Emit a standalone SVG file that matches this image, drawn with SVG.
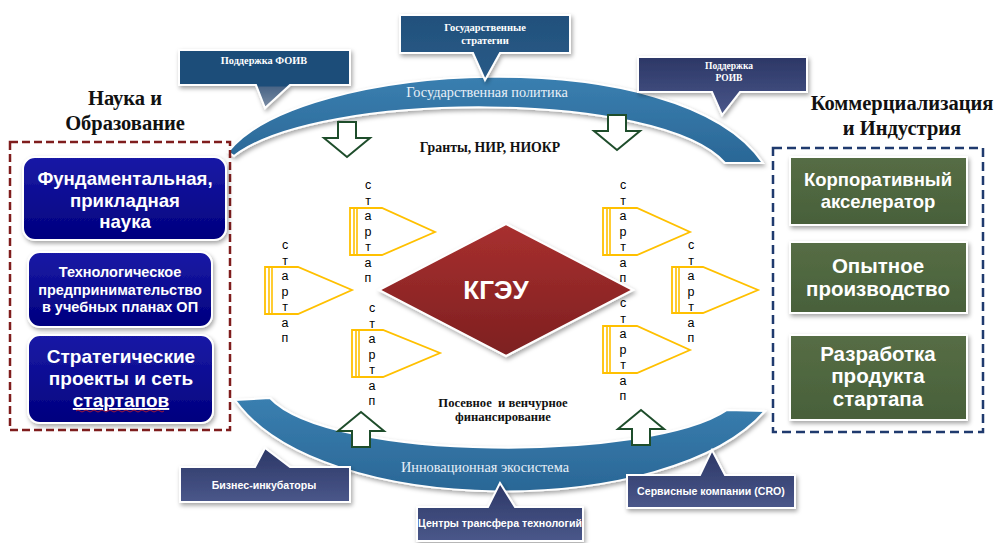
<svg xmlns="http://www.w3.org/2000/svg" width="996" height="543" viewBox="0 0 996 543">
<defs>
  <filter id="sh" x="-20%" y="-20%" width="140%" height="150%">
    <feDropShadow dx="1.5" dy="2.5" stdDeviation="2.2" flood-color="#000" flood-opacity="0.35"/>
  </filter>
  <linearGradient id="arcG" x1="0" y1="0" x2="0" y2="1">
    <stop offset="0" stop-color="#3a7fb0"/>
    <stop offset="1" stop-color="#2a6796"/>
  </linearGradient>
  <linearGradient id="blueBox" x1="0" y1="0" x2="0" y2="1">
    <stop offset="0" stop-color="#1a1aa6"/>
    <stop offset="1" stop-color="#00007e"/>
  </linearGradient>
  <linearGradient id="greenBox" x1="0" y1="0" x2="0" y2="1">
    <stop offset="0" stop-color="#566d45"/>
    <stop offset="1" stop-color="#48603a"/>
  </linearGradient>
  <linearGradient id="redD" x1="0" y1="0" x2="0" y2="1">
    <stop offset="0" stop-color="#a8302f"/>
    <stop offset="1" stop-color="#7d1f20"/>
  </linearGradient>
  <linearGradient id="foiv" x1="0" y1="0" x2="0" y2="1">
    <stop offset="0" stop-color="#1f4e79"/>
    <stop offset="0.62" stop-color="#1f4e79"/>
    <stop offset="0.64" stop-color="#4a6586"/>
    <stop offset="1" stop-color="#7d8ea6"/>
  </linearGradient>
  <linearGradient id="strat" x1="0" y1="0" x2="0" y2="1">
    <stop offset="0" stop-color="#21507c"/>
    <stop offset="1" stop-color="#2a5b87"/>
  </linearGradient>
  <linearGradient id="slate" x1="0" y1="0" x2="0" y2="1">
    <stop offset="0" stop-color="#2c3766"/>
    <stop offset="1" stop-color="#4a578a"/>
  </linearGradient>
  <style>
    .arc{fill:url(#arcG);stroke:#fff;stroke-width:2;filter:url(#sh)}
    .arcT{font-family:"Liberation Serif",serif;font-size:14.3px;fill:#e8f0f8;text-anchor:middle}
    .call{stroke:#fff;stroke-width:2;filter:url(#sh)}
    .ctS{font-family:"Liberation Serif",serif;font-weight:bold;fill:#fff;text-anchor:middle}
    .ctA{font-family:"Liberation Sans",Arial,sans-serif;font-weight:bold;font-size:10.6px;fill:#fff;text-anchor:middle}
    .head{font-family:"Liberation Serif",serif;font-weight:bold;font-size:20.5px;fill:#111;text-anchor:middle}
    .bb{fill:url(#blueBox);stroke:#fff;stroke-width:2;filter:url(#sh)}
    .gb{fill:url(#greenBox);stroke:#fff;stroke-width:2;filter:url(#sh)}
    .bt{font-family:"Liberation Sans",Arial,sans-serif;font-weight:bold;fill:#fff;text-anchor:middle}
    .st{fill:#fff;stroke:#ffc000;stroke-width:1.8;stroke-linejoin:miter}
    .sb{stroke:#ffc000;stroke-width:1.6}
    .sl{font-family:"Liberation Sans",Arial,sans-serif;font-size:12.5px;fill:#000;text-anchor:middle}
    .ga{fill:#fff;stroke:#1e4d2b;stroke-width:2;stroke-linejoin:miter}
    .mid{font-family:"Liberation Serif",serif;font-weight:bold;fill:#111;text-anchor:middle}
  </style>
</defs>
<rect width="996" height="543" fill="#fff"/>

<!-- arcs -->
<g id="arc-top">
  <path class="arc" d="M228,152 C300,60 680,40 763,163 L725,163 C660,90 320,90 234,156 Z"/>
  <text class="arcT" x="487" y="97">Государственная политика</text>
</g>
<g id="arc-bottom">
  <path class="arc" d="M235,400 C320,520 670,520 765,411 L727,410 C650,462 330,462 270,398 Z"/>
  <text class="arcT" x="485" y="472">Инновационная экосистема</text>
</g>

<!-- callouts -->
<g id="c-foiv">
  <path class="call" fill="url(#foiv)" d="M179,50 H350 V85 H290 L265,108 L256,85 H179 Z"/>
  <text class="ctS" font-size="10.3" x="264" y="64">Поддержка ФОИВ</text>
</g>
<g id="c-strat">
  <path class="call" fill="url(#strat)" d="M400,15 H570 V53 H500 L485,80 L473,53 H400 Z"/>
  <text class="ctS" font-size="10.5" x="485" y="31">Государственные</text>
  <text class="ctS" font-size="10.5" x="485" y="44">стратегии</text>
</g>
<g id="c-roiv">
  <path class="call" fill="url(#slate)" d="M638,57 H807 V92 H740 L722,115 L712,92 H638 Z"/>
  <text class="ctS" font-size="9.5" x="729" y="69">Поддержка</text>
  <text class="ctS" font-size="9.5" x="729" y="81">РОИВ</text>
</g>
<g id="c-incub">
  <path class="call" fill="url(#slate)" d="M180,467 H255 L265,448 L290,467 H350 V502 H180 Z"/>
  <text class="ctA" x="264" y="489">Бизнес-инкубаторы</text>
</g>
<g id="c-ctt">
  <path class="call" fill="url(#slate)" d="M417,507 H488 L500,483 L515,507 H583 V541 H417 Z"/>
  <text class="ctA" x="500" y="527">Центры трансфера технологий</text>
</g>
<g id="c-cro">
  <path class="call" fill="url(#slate)" d="M627,475 H700 L712,450 L725,475 H795 V508 H627 Z"/>
  <text class="ctA" x="711" y="495">Сервисные компании (CRO)</text>
</g>

<!-- headings -->
<g id="h-left">
  <text class="head" x="125" y="105">Наука и</text>
  <text class="head" x="125" y="130">Образование</text>
</g>
<g id="h-right">
  <text class="head" x="902" y="110">Коммерциализация</text>
  <text class="head" x="902" y="135">и Индустрия</text>
</g>

<!-- dashed containers -->
<g id="box-left">
  <rect x="10" y="142" width="220" height="288" fill="none" stroke="#7f1d1d" stroke-width="2.5" stroke-dasharray="8,4"/>
</g>
<g id="box-right">
  <rect x="773" y="148" width="210" height="284" fill="none" stroke="#1f3a6e" stroke-width="2.5" stroke-dasharray="9,5"/>
</g>

<!-- left nodes -->
<g id="n-fund">
  <rect class="bb" x="23" y="157" width="203" height="83" rx="12"/>
  <text class="bt" font-size="18.6" x="125" y="185">Фундаментальная,</text>
  <text class="bt" font-size="18.6" x="125" y="207">прикладная</text>
  <text class="bt" font-size="18.6" x="125" y="228">наука</text>
</g>
<g id="n-tech">
  <rect class="bb" x="28" y="252" width="184" height="75" rx="12"/>
  <text class="bt" font-size="14.5" x="120" y="277">Технологическое</text>
  <text class="bt" font-size="14.5" x="120" y="295">предпринимательство</text>
  <text class="bt" font-size="14.5" x="120" y="312">в учебных планах ОП</text>
</g>
<g id="n-strat">
  <rect class="bb" x="28" y="335" width="185" height="88" rx="12"/>
  <text class="bt" font-size="19" x="121" y="363">Стратегические</text>
  <text class="bt" font-size="19" x="121" y="385">проекты и сеть</text>
  <text class="bt" font-size="19" x="121" y="407" text-decoration="underline">стартапов</text>
  <path d="M76,411 q2,-2 4,0 t4,0 t4,0 t4,0 t4,0 t4,0 t4,0 t4,0 t4,0 t4,0 t4,0 t4,0 t4,0 t4,0 t4,0 t4,0 t4,0 t4,0 t4,0 t4,0 t4,0 t4,0" fill="none" stroke="#d02020" stroke-width="0.8"/>
</g>

<!-- right nodes -->
<g id="n-accel">
  <rect class="gb" x="790" y="157" width="177" height="68"/>
  <text class="bt" font-size="18.5" x="878" y="186">Корпоративный</text>
  <text class="bt" font-size="18.5" x="878" y="208">акселератор</text>
</g>
<g id="n-pilot">
  <rect class="gb" x="790" y="242" width="177" height="71"/>
  <text class="bt" font-size="20.5" x="878" y="273">Опытное</text>
  <text class="bt" font-size="20.5" x="878" y="296">производство</text>
</g>
<g id="n-product">
  <rect class="gb" x="790" y="335" width="177" height="85"/>
  <text class="bt" font-size="20.5" x="878" y="361">Разработка</text>
  <text class="bt" font-size="20.5" x="878" y="383">продукта</text>
  <text class="bt" font-size="20.5" x="878" y="406">стартапа</text>
</g>

<!-- center -->
<g id="n-kgeu">
  <polygon points="379,290 506,224 633,290 506,356" fill="url(#redD)" stroke="#fff" stroke-width="2" filter="url(#sh)"/>
  <text class="bt" font-size="26" x="496" y="299">КГЭУ</text>
</g>

<g id="mid-texts">
  <text class="mid" font-size="13.8" x="490" y="152">Гранты, НИР, НИОКР</text>
  <text class="mid" font-size="12.6" x="503" y="407" xml:space="preserve">Посевное  и венчурное</text>
  <text class="mid" font-size="12.6" x="503" y="421">финансирование</text>
</g>

<!-- startups -->
<g id="s1">
  <polygon class="st" points="350,208 382,208 435,232 382,255 350,255"/>
  <line class="sb" x1="354" y1="208" x2="354" y2="255"/><line class="sb" x1="357" y1="208" x2="357" y2="255" stroke-width="1"/>
  <text class="sl" x="368" y="189">с<tspan x="368" dy="15.5">т</tspan><tspan x="368" dy="15.5">а</tspan><tspan x="368" dy="15.5">р</tspan><tspan x="368" dy="15.5">т</tspan><tspan x="368" dy="15.5">а</tspan><tspan x="368" dy="15.5">п</tspan></text>
</g>
<g id="s2">
  <polygon class="st" points="265,267 298,267 352,290 298,314 265,314"/>
  <line class="sb" x1="269" y1="267" x2="269" y2="314"/><line class="sb" x1="272" y1="267" x2="272" y2="314" stroke-width="1"/>
  <text class="sl" x="285" y="249">с<tspan x="285" dy="15.5">т</tspan><tspan x="285" dy="15.5">а</tspan><tspan x="285" dy="15.5">р</tspan><tspan x="285" dy="15.5">т</tspan><tspan x="285" dy="15.5">а</tspan><tspan x="285" dy="15.5">п</tspan></text>
</g>
<g id="s3">
  <polygon class="st" points="352,330 383,330 440,353 383,377 352,377"/>
  <line class="sb" x1="356" y1="330" x2="356" y2="377"/><line class="sb" x1="359" y1="330" x2="359" y2="377" stroke-width="1"/>
  <text class="sl" x="372" y="312">с<tspan x="372" dy="15.5">т</tspan><tspan x="372" dy="15.5">а</tspan><tspan x="372" dy="15.5">р</tspan><tspan x="372" dy="15.5">т</tspan><tspan x="372" dy="15.5">а</tspan><tspan x="372" dy="15.5">п</tspan></text>
</g>
<g id="s4">
  <polygon class="st" points="603,208 637,208 690,232 637,255 603,255"/>
  <line class="sb" x1="607" y1="208" x2="607" y2="255"/><line class="sb" x1="610" y1="208" x2="610" y2="255" stroke-width="1"/>
  <text class="sl" x="623" y="189">с<tspan x="623" dy="15.5">т</tspan><tspan x="623" dy="15.5">а</tspan><tspan x="623" dy="15.5">р</tspan><tspan x="623" dy="15.5">т</tspan><tspan x="623" dy="15.5">а</tspan><tspan x="623" dy="15.5">п</tspan></text>
</g>
<g id="s5">
  <polygon class="st" points="672,267 703,267 758,290 703,313 672,313"/>
  <line class="sb" x1="676" y1="267" x2="676" y2="313"/><line class="sb" x1="679" y1="267" x2="679" y2="313" stroke-width="1"/>
  <text class="sl" x="691" y="249">с<tspan x="691" dy="15.5">т</tspan><tspan x="691" dy="15.5">а</tspan><tspan x="691" dy="15.5">р</tspan><tspan x="691" dy="15.5">т</tspan><tspan x="691" dy="15.5">а</tspan><tspan x="691" dy="15.5">п</tspan></text>
</g>
<g id="s6">
  <polygon class="st" points="603,326 637,326 690,350 637,373 603,373"/>
  <line class="sb" x1="607" y1="326" x2="607" y2="373"/><line class="sb" x1="610" y1="326" x2="610" y2="373" stroke-width="1"/>
  <text class="sl" x="623" y="307">с<tspan x="623" dy="15.5">т</tspan><tspan x="623" dy="15.5">а</tspan><tspan x="623" dy="15.5">р</tspan><tspan x="623" dy="15.5">т</tspan><tspan x="623" dy="15.5">а</tspan><tspan x="623" dy="15.5">п</tspan></text>
</g>

<!-- connectors: hollow block arrows -->
<g id="connectors">
  <polygon class="ga" points="338,122 356,122 356,138 370,138 347,157 324,138 338,138"/>
  <polygon class="ga" points="608,115 626,115 626,131 640,131 617,150 594,131 608,131"/>
  <polygon class="ga" points="352,447 370,447 370,431 384,431 361,412 338,431 352,431"/>
  <polygon class="ga" points="632,445 650,445 650,429 664,429 641,410 618,429 632,429"/>
</g>
</svg>
